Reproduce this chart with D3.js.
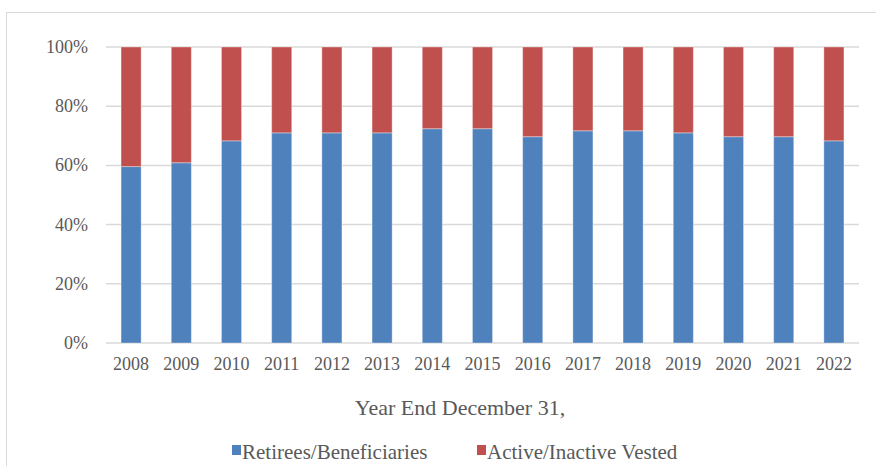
<!DOCTYPE html>
<html lang="en">
<head>
<meta charset="utf-8">
<title>Retirees vs Active</title>
<script src="https://d3js.org/d3.v7.min.js"></script>
<style>
  body { margin: 0; background: #fff; }
</style>
</head>
<body>
<script>
// data
var years = ["2008","2009","2010","2011","2012","2013","2014","2015","2016","2017","2018","2019","2020","2021","2022"];
var retirees = [59.6, 60.9, 68.3, 71.0, 71.0, 71.0, 72.4, 72.4, 69.7, 71.7, 71.7, 71.0, 69.7, 69.7, 68.3];
var active = retirees.map(d => 100 - d);
var seriesNames = ["Retirees/Beneficiaries", "Active/Inactive Vested"];
var colors = ["#4F81BD", "#C0504D"];
var yTicks = [0, 20, 40, 60, 80, 100];

var w = 876, h = 466;
var svg = d3.select("body").append("svg")
    .attr("width", w)
    .attr("height", h)
    .attr("font-family", "'Liberation Serif', 'Times New Roman', Times, serif");

// chart area border
svg.append("rect")
    .attr("x", 6.5).attr("y", 12.5)
    .attr("width", 900).attr("height", 500)
    .attr("fill", "none")
    .attr("stroke", "#d9d9d9");

var x = d3.scaleBand()
    .domain(years)
    .range([106, 859])
    .paddingInner(0.6)
    .paddingOuter(0.3);

var y = d3.scaleLinear()
    .domain([0, 100])
    .range([343, 47]);

// gridlines
svg.selectAll(".grid")
    .data(yTicks)
    .enter().append("line")
    .attr("x1", 106).attr("x2", 859)
    .attr("y1", d => y(d)).attr("y2", d => y(d))
    .attr("stroke", "#d9d9d9")
    .attr("stroke-width", 1.5);

// y labels
svg.selectAll(".ylab")
    .data(yTicks)
    .enter().append("text")
    .attr("x", 88)
    .attr("y", d => y(d) + 6)
    .attr("text-anchor", "end")
    .attr("fill", "#595959")
    .style("font-size", "18px")
    .text(d => d + "%");

var stackData = years.map((yr, i) => ({year: yr, a: retirees[i], b: active[i]}));
var stack = d3.stack().keys(["a", "b"]);
var layers = stack(stackData);

svg.selectAll(".layer")
    .data(layers)
    .enter().append("g")
    .attr("fill", (d, i) => colors[i])
    .selectAll("rect")
    .data(d => d)
    .enter().append("rect")
    .attr("x", d => x(d.data.year))
    .attr("y", d => y(d[1]))
    .attr("width", x.bandwidth())
    .attr("height", d => y(d[0]) - y(d[1]))
    .attr("stroke", "rgba(255,255,255,0.35)")
    .attr("stroke-width", 1);

// x labels
svg.selectAll(".xlab")
    .data(years)
    .enter().append("text")
    .attr("x", d => x(d) + x.bandwidth() / 2)
    .attr("y", 370)
    .attr("text-anchor", "middle")
    .attr("fill", "#595959")
    .style("font-size", "18px")
    .text(d => d);

svg.append("text")
    .attr("x", 460)
    .attr("y", 415)
    .attr("text-anchor", "middle")
    .attr("fill", "#595959")
    .style("font-size", "22px")
    .text("Year End December 31,");

// legend
var legendX = [232, 477];
var lg = svg.selectAll(".leg")
    .data(seriesNames)
    .enter().append("g")
    .attr("transform", (d, i) => "translate(" + legendX[i] + ",0)");
lg.append("rect")
    .attr("x", 0).attr("y", 445)
    .attr("width", 9).attr("height", 10)
    .attr("fill", (d, i) => colors[i]);
lg.append("text")
    .attr("x", 10)
    .attr("y", 459)
    .attr("fill", "#595959")
    .style("font-size", "21px")
    .text(d => d);
</script>
</body>
</html>
